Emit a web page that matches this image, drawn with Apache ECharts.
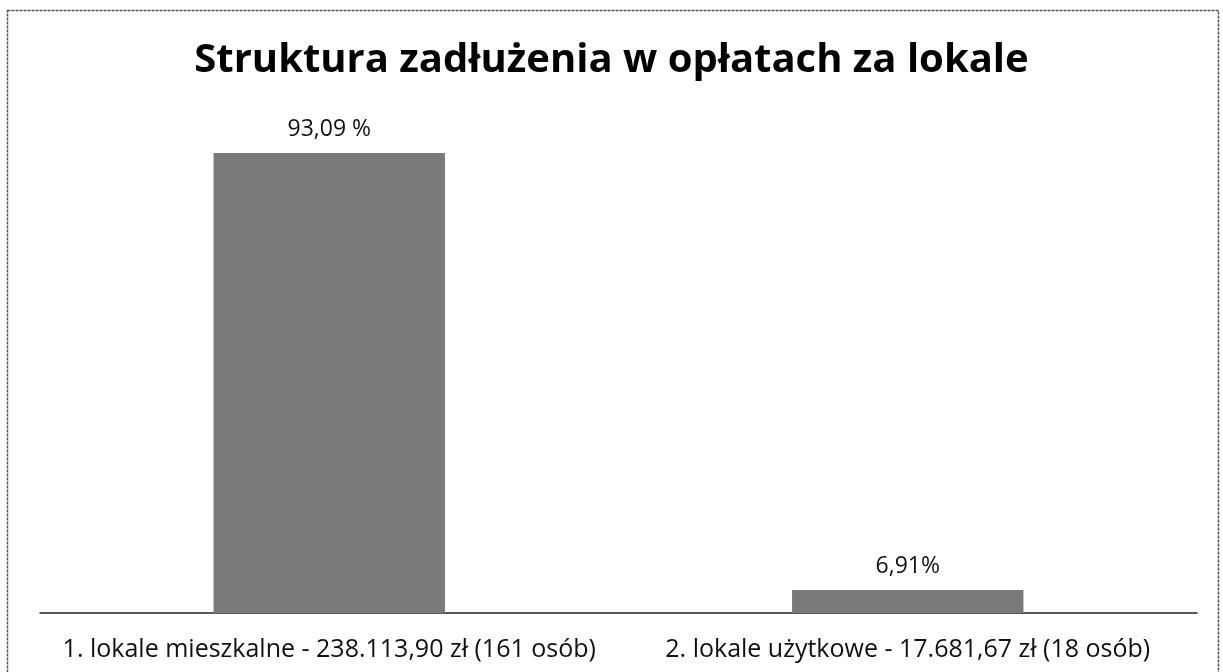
<!DOCTYPE html>
<html>
<head>
<meta charset="utf-8">
<script src="https://cdn.jsdelivr.net/npm/echarts@6/dist/echarts.min.js"></script>
<style>
  html, body { margin: 0; padding: 0; background: #fff; }
  #chart { width: 1223px; height: 672px; }
</style>
</head>
<body>
<div id="chart"></div>
<script>
// dane
const categories = [
  '1. lokale mieszkalne - 238.113,90 zł (161 osób)',
  '2. lokale użytkowe - 17.681,67 zł (18 osób)'
];
const shares = [93.09, 6.91];
const shareLabels = ['93,09 %', '6,91%'];

const chart = echarts.init(document.getElementById('chart'));

const option = {
  backgroundColor: '#ffffff',
  animation: false,
  title: {
    text: 'Struktura zadłużenia w opłatach za lokale',
    left: 'center',
    top: 36,
    textStyle: {
      fontFamily: 'Open Sans',
      fontWeight: 'bold',
      fontSize: 40,
      color: '#000'
    }
  },
  grid: {
    left: 40,
    right: 26,
    top: 153,
    bottom: 59
  },
  xAxis: {
    type: 'category',
    data: categories,
    axisTick: { show: false },
    axisLine: { lineStyle: { color: '#222', width: 1.5 } },
    axisLabel: {
      interval: 0,
      fontFamily: 'Open Sans',
      fontSize: 25,
      color: '#111',
      margin: 24
    }
  },
  yAxis: {
    type: 'value',
    min: 2.37,
    max: 93.09,
    show: false,
    splitLine: { show: false }
  },
  series: [
    {
      type: 'bar',
      data: shares,
      barWidth: '40%',
      itemStyle: { color: '#7a7a7a' },
      label: {
        show: true,
        position: 'top',
        distance: 12,
        fontFamily: 'Open Sans',
        fontSize: 23,
        color: '#111',
        formatter: (p) => shareLabels[p.dataIndex]
      }
    }
  ],
  graphic: [
    {
      type: 'rect',
      shape: { x: 7.5, y: 10.5, width: 1211, height: 700 },
      style: { fill: null, stroke: '#555', lineWidth: 1.5, lineDash: [3, 1] },
      silent: true
    }
  ]
};

chart.setOption(option);
</script>
</body>
</html>
